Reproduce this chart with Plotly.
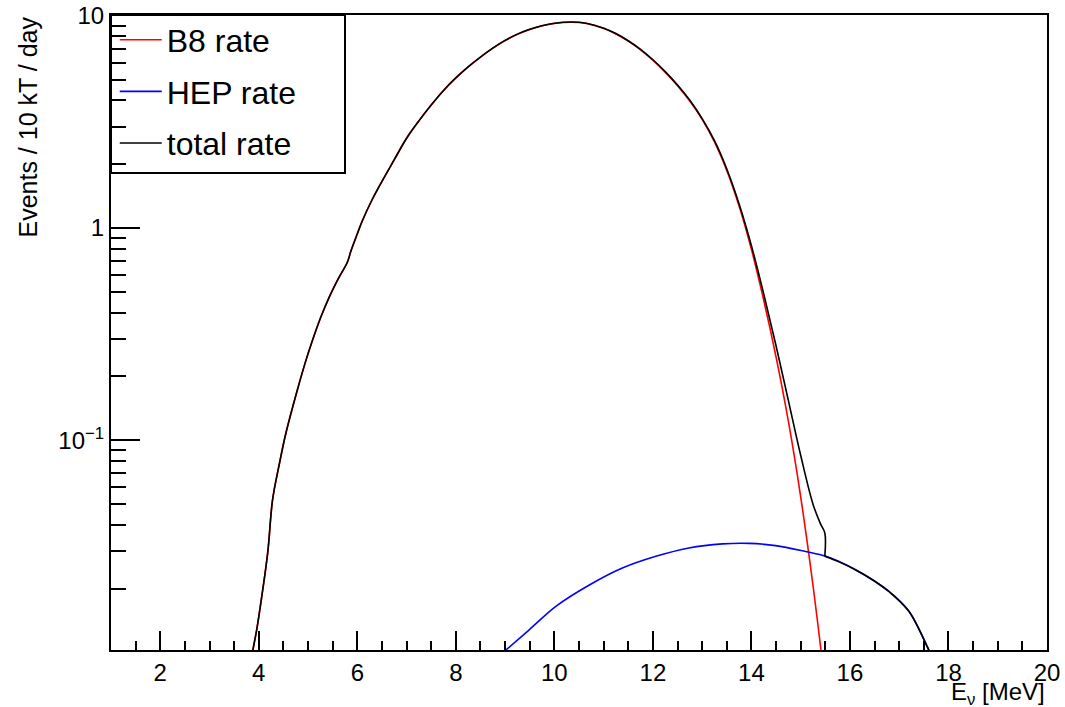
import plotly.graph_objects as go

# ---- data ----
b8_energy = [3.85, 3.95, 4.01, 4.18, 4.28, 4.42, 4.55, 4.79, 4.94, 5.09, 5.26, 5.43, 5.62, 5.80, 5.87,
             6.00, 6.10, 6.30, 6.50, 6.75, 7.00, 7.25, 7.50, 7.75, 8.00, 8.25, 8.50, 8.75, 9.00,
             9.25, 9.50, 9.75, 10.00, 10.35, 10.65, 11.00, 11.25, 11.50, 11.75, 12.00, 12.25,
             12.50, 12.75, 13.00, 13.25, 13.50, 13.75, 14.00, 14.25, 14.50, 14.75, 15.00, 15.25,
             15.50]
b8_rate = [0.0095, 0.0125, 0.0153, 0.0294, 0.0525, 0.078, 0.108, 0.175, 0.231, 0.296, 0.381, 0.473, 0.581, 0.692, 0.78,
           0.94, 1.08, 1.36, 1.66, 2.10, 2.65, 3.20, 3.80, 4.45, 5.10, 5.75, 6.39, 7.04, 7.65,
           8.19, 8.63, 8.98, 9.21, 9.33, 9.20, 8.73, 8.22, 7.60, 6.92, 6.18, 5.43,
           4.69, 3.97, 3.25, 2.55, 1.87, 1.27, 0.794, 0.457, 0.247, 0.123, 0.0542, 0.0207,
           0.0069]

hep_energy = [9.00, 9.49, 10.03, 10.71, 11.38, 12.06, 12.73, 13.41, 13.95, 14.49,
              15.10, 15.51, 16.12, 16.79, 17.20, 17.60, 17.66]
hep_rate = [0.0102, 0.0128, 0.0165, 0.0208, 0.0250, 0.0284, 0.0311, 0.0325, 0.0327, 0.0319,
            0.0299, 0.0284, 0.0245, 0.0194, 0.0156, 0.0103, 0.0097]

# total rate (None marks where the drawn line restarts right after the step at ~15.5 MeV)
total_energy = [3.85, 3.95, 4.01, 4.18, 4.28, 4.42, 4.55, 4.79, 4.94, 5.09, 5.26, 5.43, 5.62, 5.80, 5.87,
                6.00, 6.10, 6.30, 6.50, 6.75, 7.00, 7.25, 7.50, 7.75, 8.00, 8.25, 8.50, 8.75, 9.00,
                9.25, 9.50, 9.75, 10.00, 10.35, 10.65, 11.00, 11.25, 11.50, 11.75, 12.00, 12.25,
                12.50, 12.75, 13.00, 13.25, 13.50, 13.75, 14.00, 14.25, 14.50, 14.75, 15.00, 15.25,
                15.40, 15.49, 15.49, None,
                15.49, 15.80, 16.12, 16.45, 16.79, 17.20, 17.60, 17.66]
total_rate = [0.0095, 0.0125, 0.0153, 0.0294, 0.0525, 0.078, 0.108, 0.175, 0.231, 0.296, 0.381, 0.473, 0.581, 0.692, 0.78,
              0.94, 1.08, 1.36, 1.66, 2.10, 2.65, 3.20, 3.80, 4.45, 5.10, 5.75, 6.39, 7.04, 7.66,
              8.20, 8.64, 8.99, 9.23, 9.35, 9.22, 8.75, 8.25, 7.63, 6.95, 6.21, 5.46,
              4.72, 4.00, 3.28, 2.58, 1.90, 1.30, 0.827, 0.489, 0.279, 0.154, 0.085, 0.050,
              0.0405, 0.0366, 0.0284, None,
              0.0284, 0.0266, 0.0245, 0.0221, 0.0194, 0.0156, 0.0103, 0.0097]

series_names = ["B8 rate", "HEP rate", "total rate"]
x_tick_values = [2, 4, 6, 8, 10, 12, 14, 16, 18, 20]
y_tick_values = [0.1, 1, 10]
y_tick_labels = ["10<sup>\u22121</sup>", "1", "10"]

FONT = "Liberation Sans, Arial, Helvetica, sans-serif"

fig = go.Figure()
fig.add_trace(go.Scatter(x=b8_energy, y=b8_rate, mode="lines", name=series_names[0],
                         line=dict(color="#ff0000", width=1.6, shape="spline", smoothing=1.0),
                         legendgroup="a"))
fig.add_trace(go.Scatter(x=hep_energy, y=hep_rate, mode="lines", name=series_names[1],
                         line=dict(color="#0000ff", width=1.6, shape="spline", smoothing=1.0),
                         legendgroup="b"))
fig.add_trace(go.Scatter(x=total_energy, y=total_rate, mode="lines", name=series_names[2],
                         line=dict(color="#000000", width=1.6, shape="spline", smoothing=1.0),
                         connectgaps=False, legendgroup="c"))

W, H = 1065, 707
L, R, T, B = 111, 18, 15, 57
pw, ph = W - L - R, H - T - B

fig.update_layout(
    width=W, height=H,
    margin=dict(l=L, r=R, t=T, b=B, autoexpand=False),
    paper_bgcolor="white", plot_bgcolor="white",
    font=dict(family=FONT, size=24, color="black"),
    showlegend=True,
    legend=dict(x=0.004, y=1.004, xanchor="left", yanchor="top",
                bgcolor="rgba(0,0,0,0)", borderwidth=0,
                font=dict(family=FONT, size=32, color="black"),
                tracegroupgap=7, itemwidth=42),
    xaxis=dict(range=[1, 20], showgrid=False, zeroline=False, automargin=False,
               showline=True, linecolor="black", linewidth=2, mirror=True,
               tickvals=x_tick_values, ticks="inside", ticklen=19, tickwidth=2, tickcolor="black",
               tickfont=dict(family=FONT, size=24),
               minor=dict(dtick=0.5, ticks="inside", ticklen=9, tickwidth=2, tickcolor="black", showgrid=False)),
    yaxis=dict(type="log", range=[-1.988, 1.004], showgrid=False, zeroline=False, automargin=False,
               showline=True, linecolor="black", linewidth=2, mirror=True,
               tickvals=y_tick_values, ticktext=y_tick_labels,
               ticks="inside", ticklen=29, tickwidth=2, tickcolor="black",
               tickfont=dict(family=FONT, size=24),
               minor=dict(dtick="D1", ticks="inside", ticklen=15, tickwidth=2, tickcolor="black", showgrid=False)),
    shapes=[dict(type="rect", xref="paper", yref="paper",
                 x0=0, x1=(345 - L) / pw, y0=(650 - 173) / ph, y1=1,
                 line=dict(color="black", width=2), fillcolor="white", layer="below")],
    annotations=[
        dict(text="Events / 10 kT / day", xref="paper", yref="paper",
             x=(27 - L) / pw, y=1, xanchor="center", yanchor="top", textangle=-90,
             showarrow=False, font=dict(family=FONT, size=25)),
        dict(text="E<sub>\u03bd</sub> [MeV]", xref="paper", yref="paper",
             x=1, y=(650 - 693) / ph, xanchor="right", yanchor="middle",
             showarrow=False, font=dict(family=FONT, size=24)),
    ],
)

fig.write_html("out.html")
